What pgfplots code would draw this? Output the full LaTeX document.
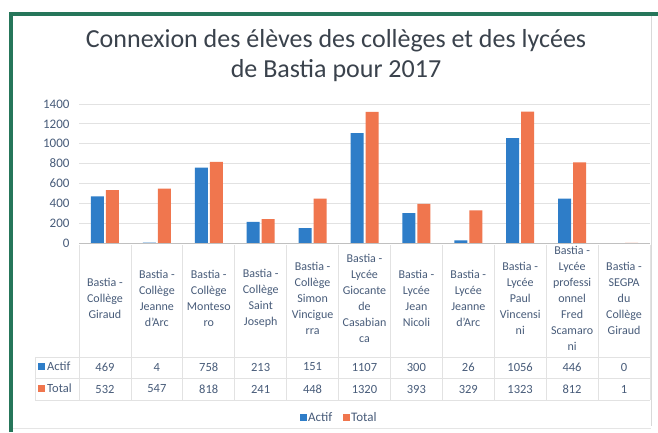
\documentclass[border=0pt]{standalone}
\usepackage{pgfplots}
\pgfplotsset{compat=1.18}
\usepackage{pgfplotstable}
\usepackage{fontspec}
\setmainfont{Carlito}
\definecolor{cBlue}{RGB}{46,125,200}
\definecolor{cOrange}{RGB}{240,118,78}
\definecolor{cTitle}{RGB}{58,66,76}
\definecolor{cText}{RGB}{72,92,122}
\definecolor{cGrid}{RGB}{226,226,226}
\definecolor{cFrame}{RGB}{38,118,90}
\pgfplotstableread{
x actif total
0 469 532
1 4 547
2 758 818
3 213 241
4 151 448
5 1107 1320
6 300 393
7 26 329
8 1056 1323
9 446 812
10 0 1
}\datatable
\begin{document}
\begin{tikzpicture}[x=1pt,y=1pt]
\useasboundingbox (0,0) rectangle (658,432);
\fill[white] (0,0) rectangle (658,432);
% title
\node[anchor=base,text=cTitle,font=\fontsize{26}{30}\selectfont] at (336,384) {Connexion des élèves des collèges et des lycées};
\node[anchor=base,text=cTitle,font=\fontsize{26}{30}\selectfont] at (336,354) {de Bastia pour 2017};
\begin{axis}[
  at={(79pt,189pt)}, anchor=south west,
  scale only axis, width=571pt, height=139pt,
  xmin=-0.5, xmax=10.5, ymin=0, ymax=1400,
  ytick={0,200,...,1400},
  xtick={0,...,10},
  xticklabels={
    {Bastia -\\Collège\\Giraud},
    {Bastia -\\Collège\\Jeanne\\d'Arc},
    {Bastia -\\Collège\\Monteso\\ro},
    {Bastia -\\Collège\\Saint\\Joseph},
    {Bastia -\\Collège\\Simon\\Vincigue\\rra},
    {Bastia -\\Lycée\\Giocante\\de\\Casabian\\ca},
    {Bastia -\\Lycée\\Jean\\Nicoli},
    {Bastia -\\Lycée\\Jeanne\\d'Arc},
    {Bastia -\\Lycée\\Paul\\Vincensi\\ni},
    {Bastia -\\Lycée\\professi\\onnel\\Fred\\Scamaro\\ni},
    {Bastia -\\SEGPA\\du\\Collège\\Giraud}},
  xticklabel style={anchor=center, yshift=-55pt, align=center,
    font=\fontsize{12}{16}\selectfont, text=cText},
  yticklabel style={font=\fontsize{13}{15}\selectfont, text=cText},
  /pgf/number format/assume math mode=true,
  /pgf/number format/1000 sep={},
  ymajorgrids, grid style={cGrid, line width=0.8pt},
  axis line style={draw=none},
  major tick length=0pt,
  yticklabel shift=6pt,
  clip=false,
]
\addplot[ybar, bar width=13pt, bar shift=-7.5pt, fill=cBlue, draw=none] table[x=x,y=actif]{\datatable};
\addplot[ybar, bar width=13pt, bar shift=7.5pt, fill=cOrange, draw=none] table[x=x,y=total]{\datatable};
\end{axis}
% axis line and table grid
\draw[cGrid!85!black, line width=0.8pt] (79,189) -- (650,189);
\foreach \k in {0,...,11} {
  \draw[cGrid, line width=0.8pt] ({79+51.9*\k},187) -- ({79+51.9*\k},32);
}
\draw[cGrid, line width=0.8pt] (35,75) -- (650,75);
\draw[cGrid, line width=0.8pt] (35,54) -- (650,54);
\draw[cGrid, line width=0.8pt] (35,32) -- (650,32);
\draw[cGrid, line width=0.8pt] (35,75) -- (35,32);
% row headers
\fill[cBlue] (38,62) rectangle (45,69);
\node[anchor=west, text=cText, font=\fontsize{12.5}{15}\selectfont, inner sep=0pt] at (47,65.5) {Actif};
\fill[cOrange] (38,40) rectangle (45,47);
\node[anchor=west, text=cText, font=\fontsize{12.5}{15}\selectfont, inner sep=0pt] at (47,43.5) {Total};
% values
\foreach \v [count=\i from 0] in {469,4,758,213,151,1107,300,26,1056,446,0} {
  \node[text=cText, font=\fontsize{12.5}{15}\selectfont] at ({79+51.9*(\i+0.5)},65) {\v};
}
\foreach \v [count=\i from 0] in {532,547,818,241,448,1320,393,329,1323,812,1} {
  \node[text=cText, font=\fontsize{12.5}{15}\selectfont] at ({79+51.9*(\i+0.5)},43) {\v};
}
% legend
\fill[cBlue] (300,11) rectangle (307,18);
\node[anchor=west, text=cText, font=\fontsize{13}{15}\selectfont, inner sep=0pt] at (308,14.5) {Actif};
\fill[cOrange] (343,11) rectangle (350,18);
\node[anchor=west, text=cText, font=\fontsize{13}{15}\selectfont, inner sep=0pt] at (351,14.5) {Total};
% frame
\draw[black!15, line width=1pt] (651,416) -- (651,6);
\draw[black!10, line width=1pt] (11,4) -- (651,4);
\draw[cFrame, line width=4pt] (11,0) -- (11,418) -- (658,418);
\end{tikzpicture}
\end{document}
